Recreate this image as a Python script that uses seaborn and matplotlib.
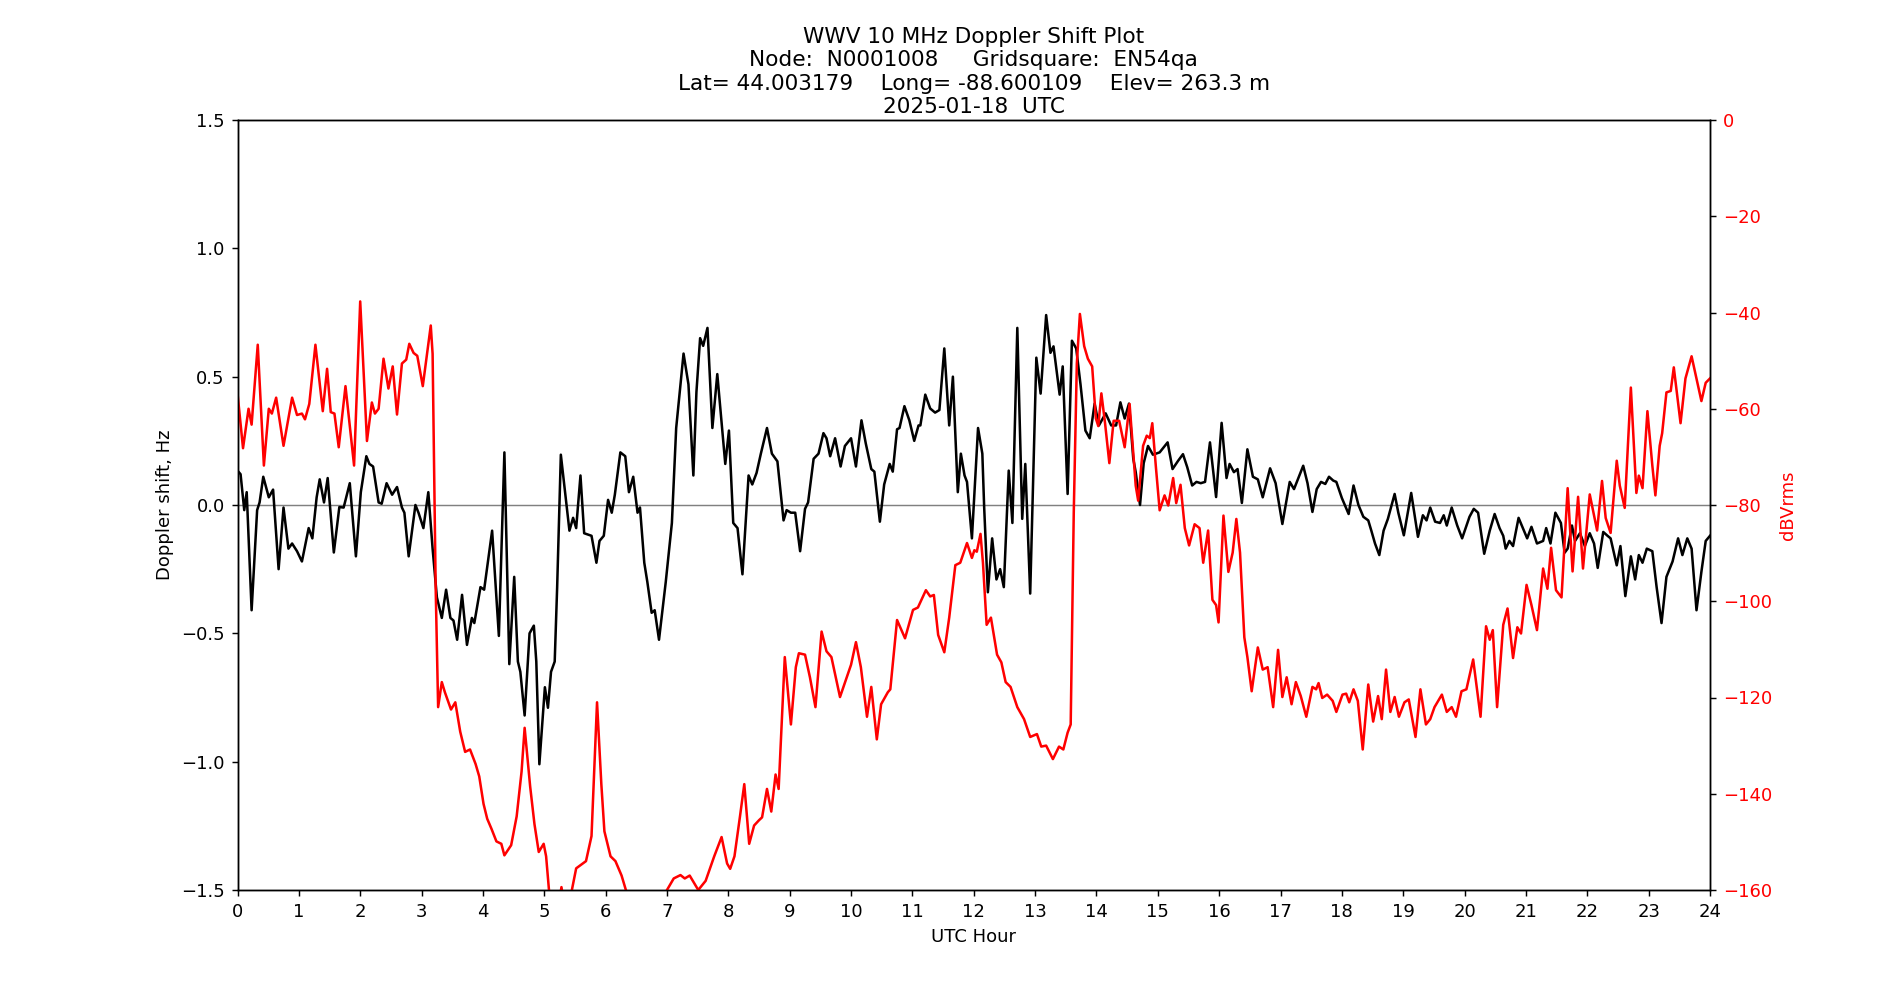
import pandas as pd
import matplotlib
matplotlib.use('Agg')
import matplotlib.pyplot as plt
import seaborn as sns

# Doppler shift (Hz), hour vs value
doppler_hour = [
    0.0, 0.05, 0.11, 0.15, 0.23, 0.32, 0.36, 0.42, 0.51, 0.58, 0.67, 0.75, 0.83, 0.89, 0.97,
    1.05, 1.16, 1.22, 1.29, 1.34, 1.41, 1.47, 1.57, 1.66, 1.73, 1.83, 1.93,
    2.01, 2.10, 2.15, 2.21, 2.30, 2.35, 2.43, 2.52, 2.60, 2.68, 2.72, 2.79, 2.90, 2.95,
    3.03, 3.11, 3.18, 3.25, 3.33, 3.40, 3.47, 3.52, 3.58, 3.66, 3.74, 3.82, 3.86, 3.96,
    4.02, 4.15, 4.26, 4.35, 4.43, 4.51, 4.57, 4.61, 4.68, 4.76, 4.83, 4.87, 4.92,
    5.01, 5.06, 5.11, 5.17, 5.21, 5.27, 5.35, 5.41, 5.47, 5.52, 5.59, 5.65, 5.77, 5.85, 5.90, 5.97,
    6.04, 6.10, 6.15, 6.24, 6.32, 6.38, 6.45, 6.52, 6.56, 6.63, 6.68, 6.75, 6.80, 6.87, 6.98,
    7.08, 7.15, 7.27, 7.35, 7.43, 7.48, 7.54, 7.59, 7.66, 7.74, 7.82, 7.95,
    8.01, 8.08, 8.15, 8.23, 8.33, 8.39, 8.46, 8.53, 8.63, 8.71, 8.80, 8.90, 8.95,
    9.02, 9.09, 9.17, 9.25, 9.30, 9.39, 9.47, 9.55, 9.60, 9.66, 9.74, 9.83, 9.90,
    10.0, 10.08, 10.17, 10.24, 10.33, 10.38, 10.47, 10.54, 10.63, 10.68, 10.75, 10.79, 10.87, 10.95,
    11.03, 11.10, 11.13, 11.21, 11.29, 11.37, 11.44, 11.52, 11.60, 11.66, 11.74, 11.79, 11.85, 11.89, 11.97,
    12.07, 12.14, 12.17, 12.23, 12.30, 12.37, 12.43, 12.49, 12.57, 12.63, 12.71, 12.79, 12.84, 12.92,
    13.02, 13.09, 13.18, 13.25, 13.30, 13.40, 13.45, 13.53, 13.60, 13.67, 13.74, 13.82, 13.89, 13.97,
    14.04, 14.15, 14.24, 14.32, 14.39, 14.46, 14.53, 14.60, 14.64, 14.71, 14.77, 14.84, 14.92,
    15.03, 15.16, 15.24, 15.33, 15.41, 15.48, 15.56, 15.63, 15.70, 15.77, 15.85, 15.95,
    16.04, 16.12, 16.17, 16.24, 16.30, 16.37, 16.46, 16.55, 16.63, 16.71, 16.83, 16.92,
    17.03, 17.15, 17.22, 17.29, 17.37, 17.44, 17.52, 17.59, 17.66, 17.73, 17.79, 17.86, 17.91,
    18.0, 18.11, 18.19, 18.27, 18.35, 18.43, 18.48, 18.54, 18.61, 18.68, 18.75, 18.86, 18.92,
    19.01, 19.13, 19.24, 19.32, 19.38, 19.44, 19.52, 19.60, 19.66, 19.71, 19.79, 19.88, 19.96,
    20.08, 20.15, 20.22, 20.32, 20.41, 20.49, 20.57, 20.63, 20.67, 20.73, 20.79, 20.88, 20.95,
    21.02, 21.09, 21.18, 21.28, 21.33, 21.40, 21.48, 21.57, 21.63, 21.68, 21.75, 21.80, 21.88, 21.96,
    22.04, 22.11, 22.17, 22.26, 22.33, 22.38, 22.48, 22.54, 22.62, 22.71, 22.78, 22.84, 22.90, 22.97,
    23.06, 23.13, 23.21, 23.29, 23.39, 23.48, 23.55, 23.63, 23.70, 23.78, 23.86, 23.93, 24.0,
]
doppler_hz = [
    0.134, 0.12, -0.02, 0.05, -0.41, -0.02, 0.01, 0.11, 0.03, 0.06, -0.25, -0.01, -0.17, -0.15, -0.18,
    -0.22, -0.09, -0.13, 0.03, 0.10, 0.01, 0.105, -0.185, -0.008, -0.01, 0.085, -0.2,
    0.05, 0.19, 0.16, 0.15, 0.01, 0.005, 0.085, 0.04, 0.07, -0.01, -0.03, -0.2, 0.0, -0.03,
    -0.09, 0.05, -0.17, -0.36, -0.44, -0.33, -0.44, -0.45, -0.525, -0.35, -0.545, -0.44, -0.46, -0.32,
    -0.33, -0.10, -0.51, 0.205, -0.62, -0.28, -0.61, -0.65, -0.82, -0.50, -0.47, -0.61, -1.01,
    -0.71, -0.79, -0.65, -0.61, -0.32, 0.196, 0.027, -0.10, -0.05, -0.09, 0.115, -0.11, -0.12, -0.225, -0.14, -0.12,
    0.02, -0.03, 0.04, 0.205, 0.19, 0.05, 0.11, -0.03, -0.01, -0.225, -0.30, -0.42, -0.41, -0.525, -0.30,
    -0.07, 0.30, 0.59, 0.47, 0.115, 0.44, 0.65, 0.62, 0.69, 0.30, 0.51, 0.16,
    0.29, -0.07, -0.09, -0.27, 0.115, 0.08, 0.125, 0.20, 0.30, 0.20, 0.17, -0.06, -0.02,
    -0.03, -0.03, -0.18, -0.015, 0.01, 0.18, 0.20, 0.28, 0.26, 0.19, 0.26, 0.15, 0.23,
    0.26, 0.15, 0.33, 0.24, 0.14, 0.13, -0.065, 0.08, 0.16, 0.13, 0.295, 0.30, 0.385, 0.33,
    0.25, 0.31, 0.31, 0.43, 0.376, 0.36, 0.37, 0.61, 0.31, 0.50, 0.05, 0.20, 0.115, 0.09, -0.13,
    0.30, 0.20, -0.01, -0.34, -0.13, -0.29, -0.25, -0.32, 0.134, -0.07, 0.69, -0.054, 0.16, -0.345,
    0.574, 0.434, 0.74, 0.593, 0.618, 0.43, 0.54, 0.043, 0.64, 0.61, 0.47, 0.29, 0.26, 0.395,
    0.31, 0.357, 0.31, 0.31, 0.40, 0.337, 0.395, 0.18, 0.128, 0.0, 0.163, 0.23, 0.196,
    0.205, 0.244, 0.14, 0.172, 0.198, 0.147, 0.076, 0.09, 0.085, 0.09, 0.244, 0.031,
    0.32, 0.105, 0.16, 0.128, 0.14, 0.008, 0.217, 0.11, 0.10, 0.03, 0.143, 0.085,
    -0.074, 0.09, 0.062, 0.105, 0.153, 0.085, -0.027, 0.062, 0.09, 0.082, 0.11, 0.095, 0.09,
    0.027, -0.035, 0.076, 0.0, -0.046, -0.06, -0.10, -0.15, -0.195, -0.10, -0.054, 0.043, -0.03,
    -0.118, 0.047, -0.124, -0.04, -0.06, -0.01, -0.065, -0.07, -0.04, -0.08, -0.01, -0.08, -0.13,
    -0.046, -0.015, -0.03, -0.19, -0.10, -0.035, -0.09, -0.12, -0.17, -0.14, -0.16, -0.05, -0.09,
    -0.13, -0.085, -0.15, -0.14, -0.09, -0.15, -0.03, -0.07, -0.186, -0.17, -0.08, -0.14, -0.11, -0.16,
    -0.11, -0.15, -0.245, -0.105, -0.12, -0.13, -0.235, -0.16, -0.355, -0.20, -0.29, -0.195, -0.225, -0.17,
    -0.18, -0.32, -0.46, -0.28, -0.22, -0.13, -0.195, -0.13, -0.17, -0.41, -0.26, -0.14, -0.12,
]

# received signal level (dBVrms)
level_hour = [
    0.0, 0.09, 0.18, 0.23, 0.33, 0.43, 0.51, 0.56, 0.63, 0.75, 0.89, 0.97,
    1.05, 1.10, 1.17, 1.27, 1.39, 1.46, 1.52, 1.58, 1.65, 1.76, 1.90,
    2.0, 2.11, 2.19, 2.24, 2.30, 2.38, 2.46, 2.53, 2.60, 2.68, 2.75, 2.80, 2.87, 2.93,
    3.02, 3.15, 3.18, 3.23, 3.27, 3.33, 3.38, 3.48, 3.55, 3.63, 3.71, 3.79, 3.88, 3.94,
    4.01, 4.07, 4.14, 4.22, 4.30, 4.35, 4.46, 4.55, 4.63, 4.68, 4.77, 4.84, 4.91, 4.99,
    5.03, 5.09, 5.20, 5.28, 5.36, 5.45, 5.52, 5.68, 5.77, 5.86, 5.93, 5.98,
    6.08, 6.16, 6.26, 6.33, 6.5, 6.8,
    7.0, 7.11, 7.22, 7.29, 7.37, 7.51, 7.63, 7.77, 7.89, 7.98,
    8.03, 8.10, 8.19, 8.26, 8.34, 8.42, 8.50, 8.55, 8.63, 8.70, 8.77, 8.82, 8.92,
    9.02, 9.10, 9.15, 9.25, 9.33, 9.42, 9.52, 9.60, 9.68, 9.82, 9.93,
    10.0, 10.08, 10.16, 10.26, 10.33, 10.42, 10.49, 10.60, 10.64, 10.75, 10.88,
    11.01, 11.09, 11.22, 11.29, 11.35, 11.42, 11.52, 11.60, 11.70, 11.78, 11.89, 11.97,
    12.01, 12.05, 12.11, 12.15, 12.21, 12.28, 12.38, 12.45, 12.52, 12.60, 12.71, 12.82, 12.92,
    13.03, 13.10, 13.18, 13.29, 13.39, 13.46, 13.53, 13.58, 13.63, 13.68, 13.73, 13.80, 13.86, 13.93, 13.99,
    14.03, 14.08, 14.14, 14.21, 14.28, 14.37, 14.46, 14.54, 14.64, 14.68, 14.76, 14.82, 14.87, 14.91, 14.97,
    15.03, 15.11, 15.17, 15.25, 15.30, 15.37, 15.44, 15.51, 15.60, 15.68, 15.74, 15.82, 15.89, 15.95, 15.99,
    16.07, 16.15, 16.22, 16.28, 16.34, 16.41, 16.46, 16.53, 16.63, 16.71, 16.79, 16.88, 16.96,
    17.03, 17.10, 17.18, 17.25, 17.33, 17.42, 17.52, 17.58, 17.62, 17.68, 17.76, 17.85, 17.91,
    18.01, 18.07, 18.12, 18.19, 18.26, 18.34, 18.43, 18.51, 18.59, 18.65, 18.72, 18.79, 18.86, 18.93,
    19.02, 19.09, 19.20, 19.28, 19.37, 19.44, 19.51, 19.63, 19.71, 19.79, 19.86, 19.95,
    20.03, 20.14, 20.26, 20.35, 20.41, 20.46, 20.53, 20.63, 20.70, 20.79, 20.86, 20.92,
    21.01, 21.09, 21.18, 21.28, 21.35, 21.41, 21.49, 21.58, 21.68, 21.76, 21.85, 21.93,
    22.04, 22.10, 22.16, 22.24, 22.30, 22.38, 22.48, 22.53, 22.61, 22.71, 22.80, 22.84, 22.90, 22.98,
    23.06, 23.11, 23.18, 23.22, 23.29, 23.36, 23.41, 23.52, 23.60, 23.70, 23.78, 23.86, 23.93, 24.0,
]
level_dbv = [
    -56.8, -68.2, -60, -63.3, -46.7, -71.8, -60, -61, -57.7, -67.7, -57.7, -61.3,
    -61, -62.2, -59, -46.7, -60.5, -51.7, -60.7, -61, -68, -55.3, -71.8,
    -37.7, -66.7, -58.7, -61, -60, -49.6, -55.8, -51.2, -61.2, -50.6, -49.8, -46.5, -48.4, -49,
    -55.3, -42.7, -48.6, -97.2, -122, -116.8, -118.9, -122.5, -121, -127.1, -131.3, -130.8, -133.8, -136.4,
    -142.1, -145.2, -147.3, -149.9, -150.4, -152.8, -150.7, -144.7, -135.4, -126.3, -138.5, -146.3, -152.1, -150.4,
    -153, -162, -166, -159.4, -166, -160, -155.5, -154, -148.8, -121, -138, -147.8,
    -153, -154, -157, -160, -165, -165,
    -160, -157.6, -156.9, -157.6, -157, -160, -158.1, -153, -149, -154.5,
    -155.6, -153, -144.7, -138, -150.4, -146.6, -145.5, -144.9, -139, -143.7, -136, -139, -111.6,
    -125.6, -113.7, -110.8, -111.1, -115.8, -122, -106.3, -110.4, -111.6, -119.9, -115.8,
    -113.2, -108.5, -113.7, -124, -117.8, -128.7, -121.4, -118.9, -118.3, -103.9, -107.7,
    -101.8, -101.3, -97.7, -99, -98.7, -107, -110.6, -103.4, -92.5, -92, -87.9, -91,
    -89.4, -89.7, -86, -92, -104.9, -103.4, -111.1, -112.7, -116.8, -117.8, -122, -124.5, -128.2,
    -127.6, -130.2, -130, -132.8, -130.2, -130.8, -127.3, -125.6, -81.6, -50.6, -40.3, -47, -49.6, -51.2, -62,
    -63.6, -56.8, -63, -71.3, -62.5, -62.5, -68, -59, -76, -79.1, -67.7, -65.6, -66.1, -63, -72.3,
    -81.1, -78, -80.1, -74.4, -79.6, -75.8, -84.8, -88.4, -84, -84.8, -92, -85.3, -99.7, -100.8, -104.4,
    -82.2, -93.9, -89.9, -82.9, -89.9, -107.5, -111.6, -118.7, -109.6, -114.2, -113.7, -122, -110.1,
    -119.9, -115.8, -121.4, -116.8, -119.7, -124, -117.8, -118.3, -117, -120.1, -119.4, -120.7, -123,
    -119.4, -119.2, -121, -118.3, -120.7, -130.8, -117.3, -125, -119.7, -124.5, -114.2, -123, -119.9, -124,
    -121, -120.4, -128.2, -118.3, -125.6, -124.5, -122, -119.4, -123, -122, -124, -118.7,
    -118.3, -112.1, -124, -105.2, -108, -106, -122, -104.9, -101.5, -111.8, -105.4, -106.7,
    -96.6, -100.8, -106, -93.2, -97.4, -88.9, -97.7, -99.2, -76.5, -93.8, -78.3, -93.2,
    -77.8, -81.6, -85.3, -75, -82.7, -85.8, -70.8, -76, -80.6, -55.6, -77.5, -73.9, -76.5, -60.5,
    -71.8, -78, -67.7, -65.1, -56.6, -56.3, -51.4, -63, -53.7, -49.1, -53.7, -58.4, -54.6, -53.7,
]

title_lines = [
    'WWV 10 MHz Doppler Shift Plot',
    'Node:  N0001008     Gridsquare:  EN54qa',
    'Lat= 44.003179    Long= -88.600109    Elev= 263.3 m',
    '2025-01-18  UTC',
]

df_dop = pd.DataFrame({'hour': doppler_hour, 'doppler': doppler_hz})
df_lvl = pd.DataFrame({'hour': level_hour, 'dbv': level_dbv})

# the reference looks like a default matplotlib figure saved at 130 dpi
DPI = 130
fig, ax = plt.subplots(figsize=(1900 / DPI, 1000 / DPI), dpi=DPI)

# Doppler shift on the left axis
ax.axhline(0, color='grey', linewidth=0.8)
sns.lineplot(data=df_dop, x='hour', y='doppler', color='black', linewidth=1.4,
             estimator=None, ax=ax)
ax.set_xlim(0, 24)
ax.set_ylim(-1.5, 1.5)
ax.set_xticks(range(0, 25))
ax.set_yticks([-1.5, -1.0, -0.5, 0.0, 0.5, 1.0, 1.5])
ax.set_xlabel('UTC Hour')
ax.set_ylabel('Doppler shift, Hz')
ax.set_title('\n'.join(title_lines), pad=4)

# signal level on the right axis
ax2 = ax.twinx()
sns.lineplot(data=df_lvl, x='hour', y='dbv', color='red', linewidth=1.4,
             estimator=None, ax=ax2)
ax2.set_ylim(-160, 0)
ax2.set_yticks(range(-160, 1, 20))
ax2.set_ylabel('dBVrms', color='red')
ax2.tick_params(axis='y', labelcolor='red')
ax2.set_xlim(0, 24)

fig.savefig('out.png', dpi=DPI)
